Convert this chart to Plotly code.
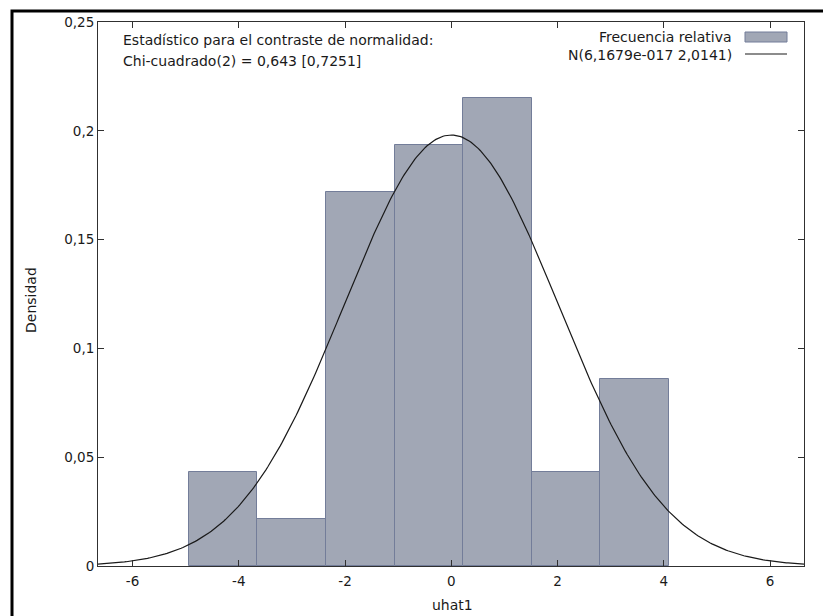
import numpy as np
import plotly.graph_objects as go

# ---- data ----
bin_edges = [-4.945, -3.652, -2.360, -1.068, 0.224, 1.516, 2.808, 4.100]
densities = [0.0430, 0.0215, 0.1720, 0.1935, 0.2150, 0.0430, 0.0860]
norm_mean = 6.1679e-17
norm_sd = 2.0141
x_ticks = [-6, -4, -2, 0, 2, 4, 6]
x_ticktext = ["-6", "-4", "-2", "0", "2", "4", "6"]
y_ticks = [0, 0.05, 0.1, 0.15, 0.2, 0.25]
y_ticktext = ["0", "0,05", "0,1", "0,15", "0,2", "0,25"]
legend_labels = ["Frecuencia relativa", "N(6,1679e-017 2,0141)"]
stat_text = ["Estadístico para el contraste de normalidad:",
             "Chi-cuadrado(2) = 0,643 [0,7251]"]

W, H = 823, 616
L, R, T, B = 98, 804, 22, 566
XR = [-6.65, 6.64]
YR = [0, 0.25]
FONT = "DejaVu Sans"
TXT = "#1a1a1a"

def px(x):
    return (x - L) / (R - L)

def py(y):
    return (B - y) / (B - T)

centers = [(bin_edges[i] + bin_edges[i + 1]) / 2 for i in range(len(densities))]
widths = [bin_edges[i + 1] - bin_edges[i] for i in range(len(densities))]

fig = go.Figure()
fig.add_trace(go.Bar(
    x=centers, y=densities, width=widths,
    marker=dict(color="#a1a7b5", line=dict(color="#737d99", width=1)),
    showlegend=False,
))

xs = np.linspace(XR[0], XR[1], 400)
ys = np.exp(-0.5 * ((xs - norm_mean) / norm_sd) ** 2) / (norm_sd * np.sqrt(2 * np.pi))
fig.add_trace(go.Scatter(x=xs, y=ys, mode="lines",
                         line=dict(color="#1a1a1a", width=1.2), showlegend=False))

axis_common = dict(showline=True, linecolor="#303030", linewidth=1, mirror="ticks",
                   ticks="inside", ticklen=6, tickcolor="#303030", tickwidth=1,
                   showgrid=False, zeroline=False,
                   tickfont=dict(family=FONT, size=13.5, color=TXT))

fig.update_layout(
    width=W, height=H,
    margin=dict(l=L, r=W - R, t=T, b=H - B),
    paper_bgcolor="white", plot_bgcolor="white",
    bargap=0,
    xaxis=dict(range=XR, tickvals=x_ticks, ticktext=x_ticktext, ticklabelstandoff=3,
               **axis_common),
    yaxis=dict(range=YR, tickvals=y_ticks, ticktext=y_ticktext, **axis_common),
    font=dict(family=FONT, size=14, color=TXT),
)

ann = []
ann.append(dict(text=stat_text[0], x=px(121), y=py(40), xanchor="left", yanchor="middle"))
ann.append(dict(text=stat_text[1], x=px(121), y=py(61), xanchor="left", yanchor="middle"))
ann.append(dict(text=legend_labels[0], x=px(734), y=py(37), xanchor="right", yanchor="middle"))
ann.append(dict(text=legend_labels[1], x=px(734), y=py(55), xanchor="right", yanchor="middle"))
ann.append(dict(text="uhat1", x=px(452), y=py(605), xanchor="center", yanchor="middle"))
ann.append(dict(text="Densidad", x=px(31), y=py(300), xanchor="center", yanchor="middle",
                textangle=-90))
for a in ann:
    a.update(xref="paper", yref="paper", showarrow=False,
             font=dict(family=FONT, size=14, color=TXT))
fig.update_layout(annotations=ann)

shapes = [
    dict(type="rect", xref="paper", yref="paper", x0=px(745), x1=px(787), y0=py(42), y1=py(32),
         fillcolor="#a1a7b5", line=dict(color="#737d99", width=1)),
    dict(type="line", xref="paper", yref="paper", x0=px(745), x1=px(787), y0=py(54), y1=py(54),
         line=dict(color="#1a1a1a", width=1.2)),
    dict(type="rect", xref="paper", yref="paper", x0=px(12), x1=px(840), y0=py(640), y1=py(11),
         fillcolor="rgba(0,0,0,0)", line=dict(color="black", width=3)),
]
fig.update_layout(shapes=shapes)

fig.write_html("out.html")
